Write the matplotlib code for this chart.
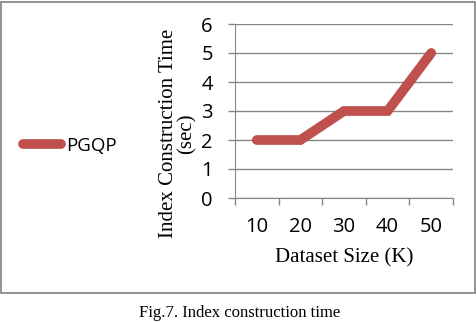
import matplotlib.pyplot as plt
from matplotlib.lines import Line2D
from matplotlib.patches import Rectangle

# data
sizes = ['10', '20', '30', '40', '50']
times = [2, 2, 3, 3, 5]
series_name = 'PGQP'

red = '#C0504D'
gray = '#868686'
W, H = 477, 322

fig = plt.figure(figsize=(W / 100, H / 100), dpi=100)
fig.patch.set_facecolor('white')

# outer frame around the chart
fig.add_artist(Rectangle((1 / W, 1 - 293 / H), 474 / W, 291 / H,
                         transform=fig.transFigure, fill=False,
                         edgecolor='#808080', linewidth=1.2))

ax = fig.add_axes([235 / W, 1 - 198 / H, 218 / W, 174 / H])
x = list(range(len(sizes)))
ax.plot(x, times, color=red, linewidth=7, solid_capstyle='round',
        solid_joinstyle='miter', zorder=3)

ax.set_xlim(-0.5, len(sizes) - 0.5)
ax.set_ylim(0, 6)
ax.set_yticks(range(7))
ax.yaxis.grid(True, color=gray, linewidth=1)
ax.set_axisbelow(True)

# category boundaries get the tick marks, labels sit in the middle
ax.set_xticks([i - 0.5 for i in range(len(sizes) + 1)])
ax.set_xticklabels([])
ax.set_xticks(x, minor=True)
ax.set_xticklabels(sizes, minor=True)
ax.tick_params(axis='x', which='major', length=5, color=gray, width=1)
ax.tick_params(axis='x', which='minor', length=0, pad=14)
ax.tick_params(axis='y', length=5, color=gray, width=1, pad=11)

for lab in ax.get_xticklabels(minor=True) + ax.get_yticklabels():
    lab.set_fontfamily('Open Sans')
    lab.set_fontsize(14.5)

for side in ['top', 'right']:
    ax.spines[side].set_visible(False)
ax.spines['left'].set_color(gray)
ax.spines['bottom'].set_color(gray)

ax.set_ylabel('Index Construction Time\n(sec)', family='Liberation Serif',
              fontsize=15, linespacing=1.0)
ax.yaxis.set_label_coords(-0.175, 0.37)
ax.set_xlabel('Dataset Size (K)', family='Liberation Serif', fontsize=15,
              labelpad=8)

# legend on the left side
handle = Line2D([], [], color=red, linewidth=7, solid_capstyle='round')
fig.legend([handle], [series_name], loc='center left',
           bbox_to_anchor=(23 / W, 1 - 146 / H), frameon=False,
           borderpad=0, borderaxespad=0,
           handlelength=2.0, handletextpad=0.3,
           prop={'family': 'Open Sans', 'size': 13.5})

fig.text(240 / W, 1 - 313 / H, 'Fig.7. Index construction time',
         family='Liberation Serif', fontsize=12, ha='center', va='center')

fig.savefig('out.png', dpi=100)
